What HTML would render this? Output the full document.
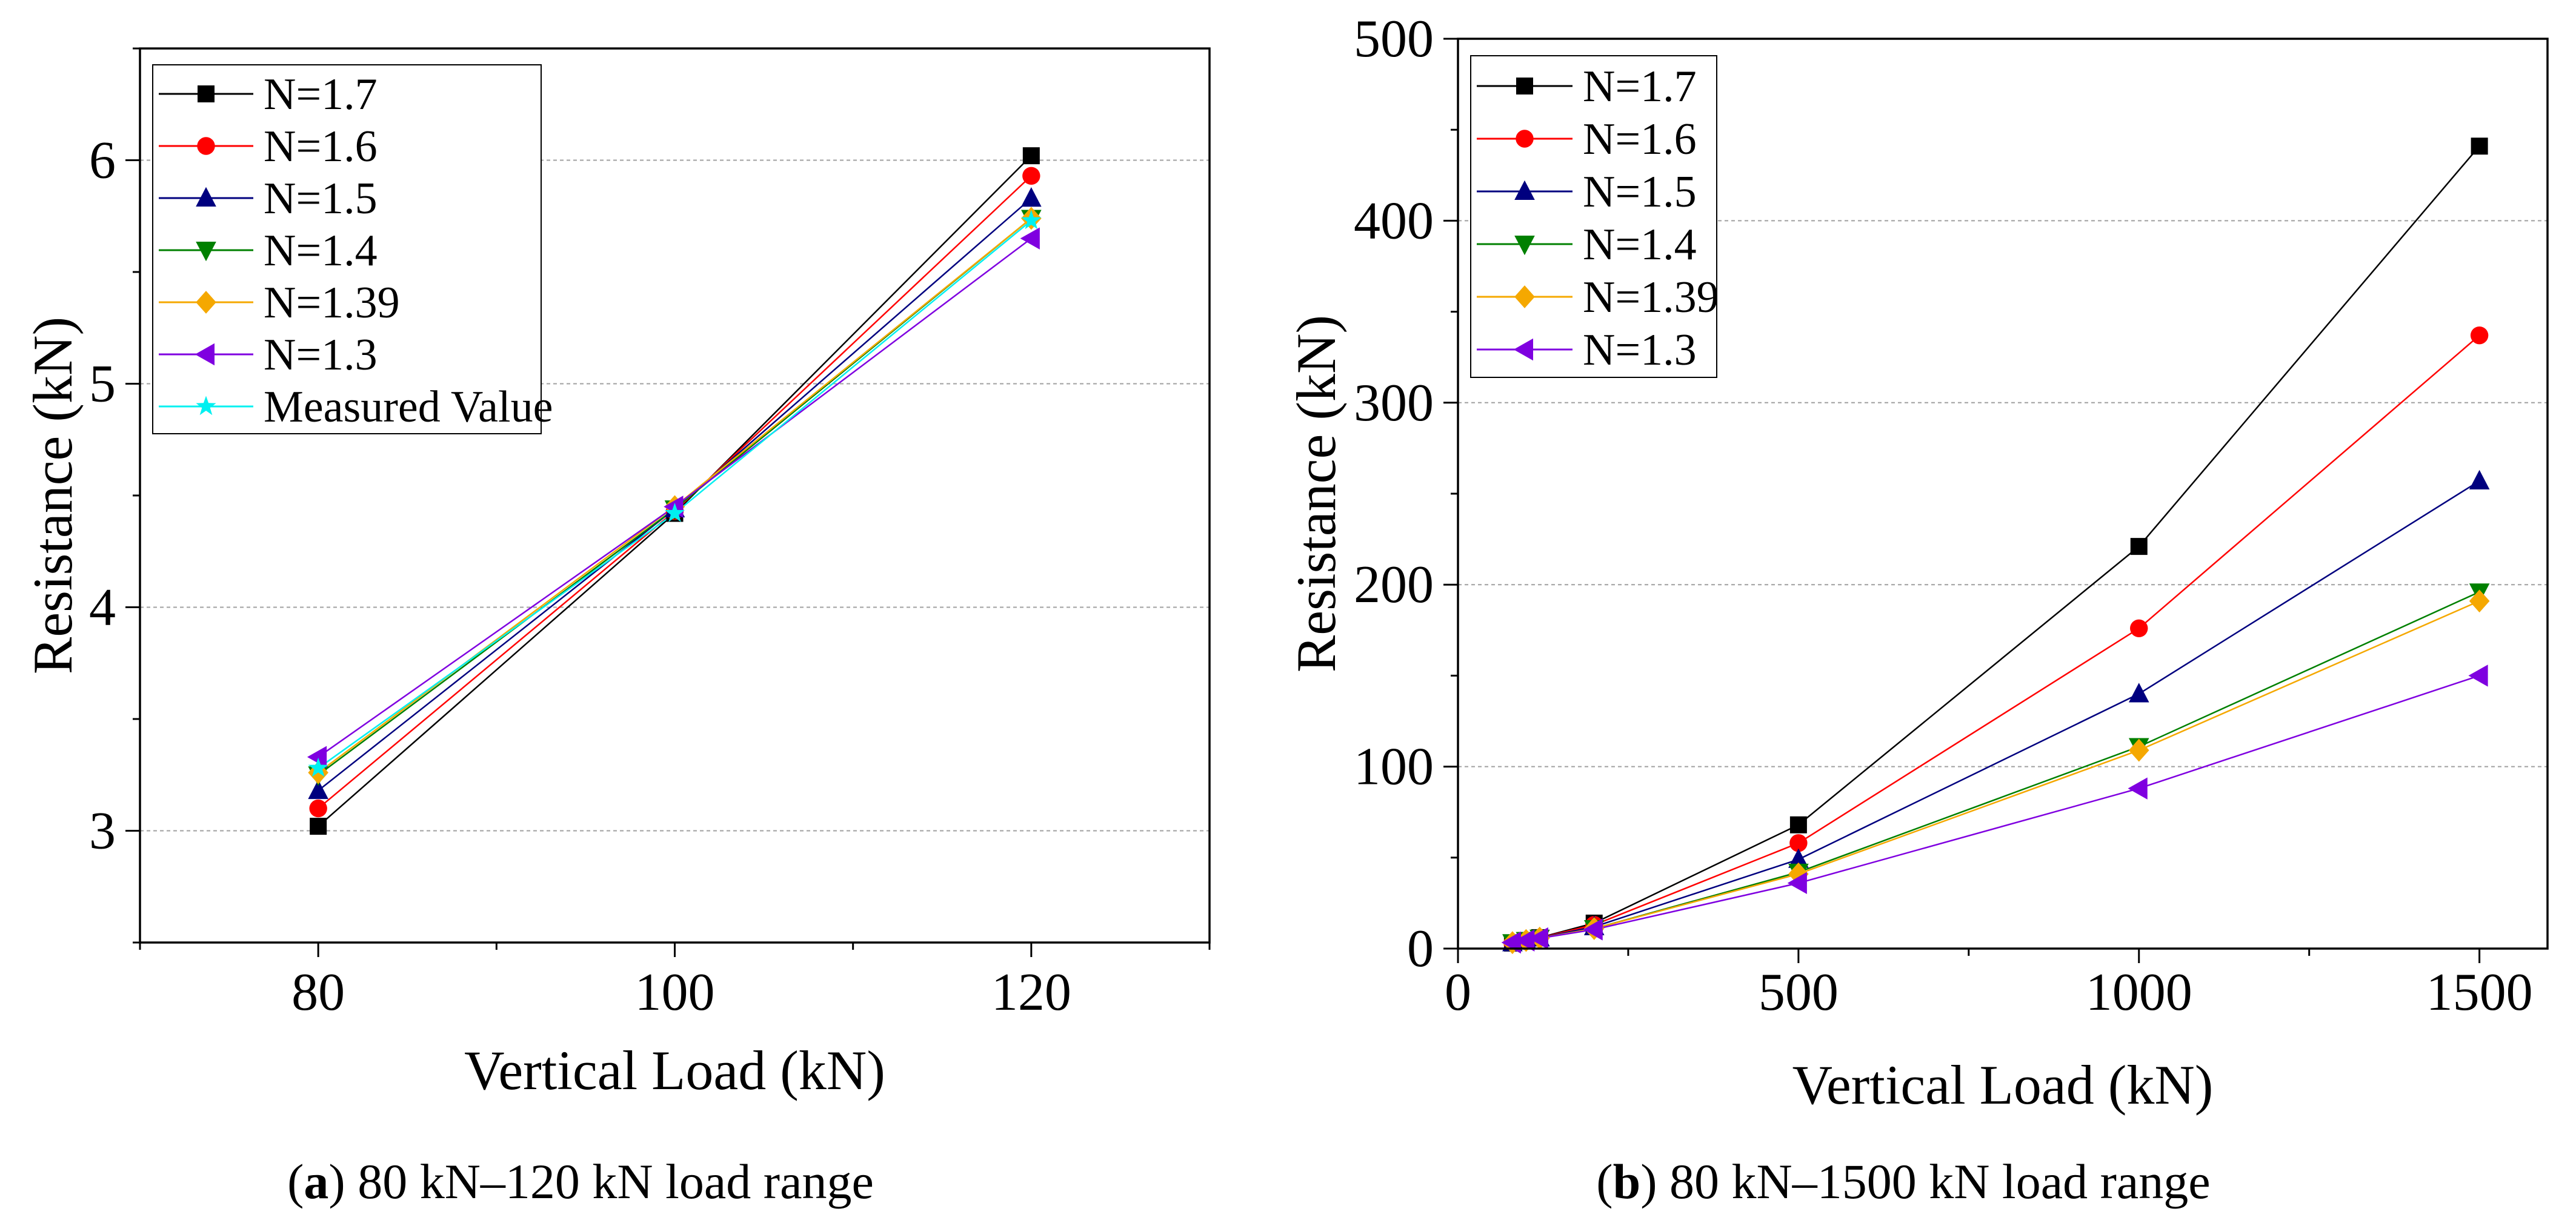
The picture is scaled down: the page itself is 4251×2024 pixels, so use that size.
<!DOCTYPE html>
<html><head><meta charset="utf-8">
<style>
html,body{margin:0;padding:0;background:#fff;}
svg, svg text{font-family:"Liberation Serif","DejaVu Serif",serif !important;}
</style></head>
<body>
<svg id="fig" width="4251" height="2019" viewBox="0 0 4251 2019" xmlns="http://www.w3.org/2000/svg" font-family="Liberation Serif, serif">
<rect x="0" y="0" width="4251" height="2019" fill="#fff"/>
<text x="958" y="1978" font-size="82" text-anchor="middle" font-family="Liberation Serif, serif">(<tspan font-weight="bold">a</tspan>) 80 kN–120 kN load range</text>
<text x="3141" y="1978" font-size="82" text-anchor="middle" font-family="Liberation Serif, serif">(<tspan font-weight="bold">b</tspan>) 80 kN–1500 kN load range</text>
</svg>
<script>
// ---- data ----
const seriesNames = ["N=1.7","N=1.6","N=1.5","N=1.4","N=1.39","N=1.3","Measured Value"];
const loadsA = [80,100,120];
const a17 = [3.02,4.42,6.02];
const a16 = [3.10,4.43,5.93];
const a15 = [3.18,4.44,5.83];
const a14 = [3.25,4.44,5.74];
const a139 = [3.26,4.45,5.74];
const a13 = [3.33,4.45,5.65];
const aMeas = [3.28,4.42,5.73];
const loadsB = [80,100,120,200,500,1000,1500];
const b17 = [3.02,4.42,6.02,14,68,221,441];
const b16 = [3.10,4.43,5.93,13,58,176,337];
const b15 = [3.18,4.44,5.83,12,49,140,257];
const b14 = [3.25,4.44,5.74,11,42,111,196];
const b139 = [3.26,4.45,5.74,11,41,109,191];
const b13 = [3.33,4.45,5.65,10.5,36,88,150];
const xTicksA = [80,100,120];
const yTicksA = [3,4,5,6];
const xTicksB = [0,500,1000,1500];
const yTicksB = [0,100,200,300,400,500];

const colors = ["#000000","#ff0000","#00007f","#008000","#f5a800","#7f00e0","#00f0f0"];
const shapes = ["square","circle","up","down","diamond","left","star"];
const NS = "http://www.w3.org/2000/svg";
const FONT = "Liberation Serif, serif";
const svg = document.getElementById("fig");
function el(tag, attrs, parent){const e=document.createElementNS(NS,tag);for(const k in attrs)e.setAttribute(k,attrs[k]);if(tag==="text")e.setAttribute("font-family",FONT);(parent||svg).appendChild(e);return e;}

function marker(g, shape, cx, cy, color, r){
  let e;
  if(shape==="square"){e=el("rect",{x:cx-r,y:cy-r,width:2*r,height:2*r,fill:color},g);}
  else if(shape==="circle"){e=el("circle",{cx:cx,cy:cy,r:r*1.05,fill:color},g);}
  else if(shape==="up"){e=el("polygon",{points:`${cx},${cy-r*1.3} ${cx-r*1.2},${cy+r} ${cx+r*1.2},${cy+r}`,fill:color},g);}
  else if(shape==="down"){e=el("polygon",{points:`${cx},${cy+r*1.3} ${cx-r*1.2},${cy-r} ${cx+r*1.2},${cy-r}`,fill:color},g);}
  else if(shape==="diamond"){e=el("polygon",{points:`${cx},${cy-r*1.35} ${cx+r*1.2},${cy} ${cx},${cy+r*1.35} ${cx-r*1.2},${cy}`,fill:color},g);}
  else if(shape==="left"){e=el("polygon",{points:`${cx-r*1.3},${cy} ${cx+r},${cy-r*1.3} ${cx+r},${cy+r*1.3}`,fill:color},g);}
  else {let p=[];for(let i=0;i<10;i++){const ang=-Math.PI/2+i*Math.PI/5;const rr=i%2?r*0.5:r*1.25;p.push((cx+rr*Math.cos(ang)).toFixed(1)+","+(cy+rr*Math.sin(ang)).toFixed(1));}
    e=el("polygon",{points:p.join(" "),fill:color},g);}
  
  
  return e;
}

function chart(cfg){
  const g = el("g",{});
  
  
  const X = v => cfg.L + (v-cfg.x0)/(cfg.x1-cfg.x0)*(cfg.R-cfg.L);
  const Y = v => cfg.B - (v-cfg.y0)/(cfg.y1-cfg.y0)*(cfg.B-cfg.T);
  cfg.yTicks.forEach(t=>{ if(t>cfg.y0 && t<cfg.y1){
    const l=el("line",{x1:cfg.L,x2:cfg.R,y1:Y(t),y2:Y(t),stroke:"#a0a0a0","stroke-width":2,"stroke-dasharray":"6,5"},g);
    
    
  }});
  cfg.series.forEach((s,i)=>{
    const pts = s.map((v,j)=>X(cfg.xs[j]).toFixed(1)+","+Y(v).toFixed(1)).join(" ");
    const pl=el("polyline",{points:pts,fill:"none",stroke:colors[i],"stroke-width":2.5},g);
    
    
  });
  cfg.series.forEach((s,i)=>{
    s.forEach((v,j)=>marker(g,shapes[i],X(cfg.xs[j]),Y(v),colors[i],14));
  });
  const fr=el("rect",{x:cfg.L,y:cfg.T,width:cfg.R-cfg.L,height:cfg.B-cfg.T,fill:"none",stroke:"#000","stroke-width":3.5},g);
  
  
  cfg.xMinor.forEach(t=>{const l=el("line",{x1:X(t),x2:X(t),y1:cfg.B,y2:cfg.B+12,stroke:"#000","stroke-width":3},g);
    
    });
  cfg.xTicks.forEach(t=>{const l=el("line",{x1:X(t),x2:X(t),y1:cfg.B,y2:cfg.B+24,stroke:"#000","stroke-width":3},g);
    
    
    const tx=el("text",{x:X(t),y:cfg.xLabelY,"font-size":88,"text-anchor":"middle"},g);tx.textContent=t;
    
    });
  cfg.yMinor.forEach(t=>{const l=el("line",{x1:cfg.L-12,x2:cfg.L,y1:Y(t),y2:Y(t),stroke:"#000","stroke-width":3},g);
    
    });
  cfg.yTicks.forEach(t=>{const l=el("line",{x1:cfg.L-24,x2:cfg.L,y1:Y(t),y2:Y(t),stroke:"#000","stroke-width":3},g);
    
    
    const tx=el("text",{x:cfg.L-40,y:Y(t)+29,"font-size":88,"text-anchor":"end"},g);tx.textContent=t;
    
    });
  const xt=el("text",{x:(cfg.L+cfg.R)/2,y:cfg.xTitleY,"font-size":92,"text-anchor":"middle"},g);
  xt.textContent="Vertical Load (kN)";
  
  
  const cy=(cfg.T+cfg.B)/2;
  const yt=el("text",{x:cfg.yTitleX,y:cy,"font-size":92,"text-anchor":"middle",transform:`rotate(-90 ${cfg.yTitleX} ${cy})`},g);
  yt.textContent="Resistance (kN)";
  
  
  const lg=cfg.legend;
  const lb=el("rect",{x:lg.x,y:lg.y,width:lg.w,height:lg.h,fill:"#fff",stroke:"#000","stroke-width":2},g);
  
  
  cfg.series.forEach((s,i)=>{
    const ry=lg.row0+i*lg.dy;
    const ll=el("line",{x1:lg.lx1,x2:lg.lx2,y1:ry,y2:ry,stroke:colors[i],"stroke-width":3},g);
    
    
    marker(g,shapes[i],(lg.lx1+lg.lx2)/2,ry,colors[i],14);
    const tx=el("text",{x:lg.tx,y:ry+25,"font-size":74},g);tx.textContent=seriesNames[i];
    
    
  });
}

chart({name:"chart-a",L:231,R:1996,T:80,B:1556,x0:70,x1:130,y0:2.5,y1:6.5,
  xs:loadsA,series:[a17,a16,a15,a14,a139,a13,aMeas],
  xTicks:xTicksA,xMinor:[70,90,110,130],yTicks:yTicksA,yMinor:[2.5,3.5,4.5,5.5,6.5],
  xLabelY:1667,xTitleY:1798,yTitleX:118,
  legend:{x:252,y:107,w:641,h:609,row0:155,dy:86,lx1:262,lx2:418,tx:435}});

chart({name:"chart-b",L:2406,R:4204,T:64,B:1566,x0:0,x1:1600,y0:0,y1:500,
  xs:loadsB,series:[b17,b16,b15,b14,b139,b13],
  xTicks:xTicksB,xMinor:[250,750,1250],yTicks:yTicksB,yMinor:[50,150,250,350,450],
  xLabelY:1667,xTitleY:1822,yTitleX:2203,
  legend:{x:2427,y:92,w:406,h:531,row0:142,dy:87,lx1:2437,lx2:2595,tx:2612}});
</script>
</body></html>
